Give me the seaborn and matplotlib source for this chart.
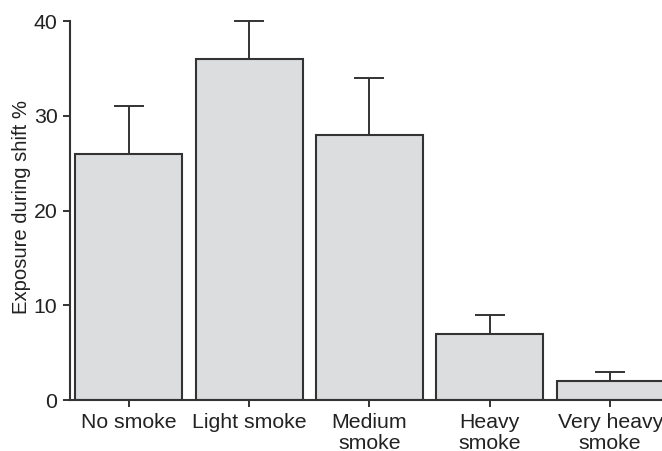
import matplotlib
matplotlib.use("Agg")
import matplotlib.pyplot as plt
import seaborn as sns
import numpy as np

categories = ["No smoke", "Light smoke", "Medium\nsmoke", "Heavy\nsmoke", "Very heavy\nsmoke"]
exposure = [26, 36, 28, 7, 2]
upper_error = [5, 4, 6, 2, 1]
y_ticks = [0, 10, 20, 30, 40]

sns.set_theme(style="ticks")
plt.rcParams["font.family"] = ["Liberation Sans", "DejaVu Sans"]

ink = "#333333"
fig = plt.figure(figsize=(6.62, 4.51), dpi=100)
ax = fig.add_axes([0.1057, 0.113, 0.8943, 0.84])

sns.barplot(x=categories, y=exposure, color="#dcdddf", edgecolor=ink,
            linewidth=1.5, width=0.89, errorbar=None, saturation=1, ax=ax)

xpos = np.arange(len(categories))
ax.errorbar(xpos, exposure, yerr=[np.zeros(len(exposure)), upper_error],
            fmt="none", ecolor=ink, elinewidth=1.4, capsize=10.5,
            capthick=1.4, clip_on=False, zorder=1)
for bar in ax.patches:
    bar.set_zorder(2)

ax.set_xlim(-0.488, 4.43)
ax.set_ylim(0, 40)
ax.set_yticks(y_ticks)
ax.set_ylabel("Exposure during shift %", fontsize=14.6, color="#222222")
ax.yaxis.set_label_coords(-0.066, 0.51)
ax.set_xlabel("")
ax.tick_params(axis="both", labelsize=15.3, colors=ink, labelcolor="#222222",
               length=5, width=1.4)
ax.tick_params(axis="x", pad=4.5)
ax.tick_params(axis="y", pad=4)
for lbl in ax.get_xticklabels():
    lbl.set_linespacing(1.1)
for side in ["top", "right"]:
    ax.spines[side].set_visible(False)
for side in ["left", "bottom"]:
    ax.spines[side].set_color(ink)
    ax.spines[side].set_linewidth(1.5)

fig.savefig("out.png", dpi=100)
